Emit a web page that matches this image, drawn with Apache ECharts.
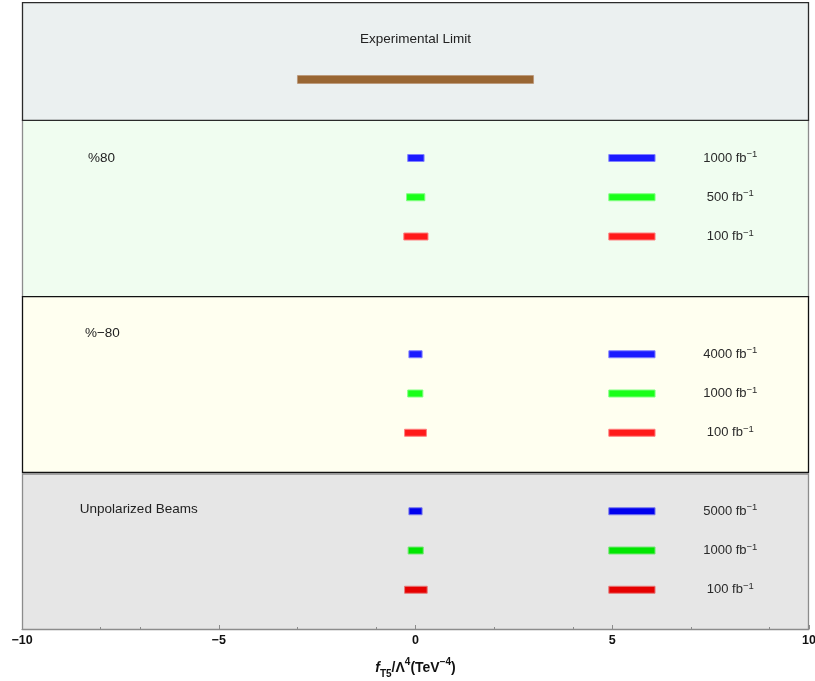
<!DOCTYPE html>
<html>
<head>
<meta charset="utf-8">
<script src="https://cdn.jsdelivr.net/npm/echarts@6/dist/echarts.min.js"></script>
<style>
  html, body { margin: 0; padding: 0; background: #ffffff; }
  #chart { width: 815px; height: 681px; }
</style>
</head>
<body>
<div id="chart"></div>
<script>
// Sensitivity intervals on f_T5/Λ^4 (TeV^-4)
const expLimit = [-3.0, 3.0];
const panelTitles = ['%80', '%\u221280', 'Unpolarized Beams'];
const lumiLabels = [
  ['1000', '500', '100'],
  ['4000', '1000', '100'],
  ['5000', '1000', '100']
];
const lowerBounds = [
  [-0.21, -0.24, -0.31],
  [-0.18, -0.21, -0.29],
  [-0.18, -0.20, -0.29]
];
const upperBounds = [
  [0.23, 0.25, 0.33],
  [0.18, 0.20, 0.29],
  [0.18, 0.21, 0.31]
];
// key swatches beside each luminosity label
const keyRange = [4.9, 6.1];
const xMinorTicks = [-8, -7, -3, -1, 2, 4, 7, 9];

// layout (row units on the hidden vertical axis)
const rowsByPanel = [[2, 3, 4], [7, 8, 9], [11, 12, 13]];
const expRow = 0;
const panelBands = [
  { y0: -1.97, y1: 1.03, fill: '#ebf0f0', stroke: '#2a2a2a', top: 2 },
  { y0: 1.03, y1: 5.52, fill: '#f0fdf0', stroke: '#8c8c8c', top: 1 },
  { y0: 5.52, y1: 10.0, fill: '#fffff0', stroke: '#111111', top: 2 },
  { y0: 10.04, y1: 14.0, fill: '#e6e6e6', stroke: '#8c8c8c', top: 1 }
];
const titleRows = [2, 6.46, 10.94];
const titleX = [-8.32, -8.4, -8.53];
const markColors = [
  ['#1a1aff', '#1aff1a', '#ff1a1a'],
  ['#1a1aff', '#1aff1a', '#ff1a1a'],
  ['#0000ee', '#00e600', '#e60000']
];
const markEdges = [
  ['#8080ff', '#80ff80', '#ff8080'],
  ['#8080ff', '#80ff80', '#ff8080'],
  ['#7a7aee', '#7ae67a', '#e67a7a']
];

// build series data
const bandData = panelBands.map((b, i) => [b.y0, b.y1, i]);
const barData = [];
lowerBounds.forEach((grp, g) => {
  grp.forEach((lo, k) => {
    barData.push([lo, upperBounds[g][k], rowsByPanel[g][k], g, k]);
    barData.push([keyRange[0], keyRange[1], rowsByPanel[g][k], g, k]);
  });
});
const lumiData = [];
lumiLabels.forEach((grp, g) => grp.forEach((l, k) => lumiData.push([8.0, rowsByPanel[g][k], g, k])));
const titleData = panelTitles.map((t, i) => [titleX[i], titleRows[i], i]);

const chart = echarts.init(document.getElementById('chart'));
const baseFont = 'Liberation Sans, Arial, sans-serif';

chart.setOption({
  animation: false,
  backgroundColor: '#ffffff',
  grid: { left: 22, right: 6, top: 1, bottom: 52, containLabel: false, outerBoundsMode: 'none' },
  xAxis: [
    {
      type: 'value', min: -10, max: 10, interval: 5, z: 10,
      splitLine: { show: false },
      axisLine: { show: true, onZero: false, lineStyle: { color: '#8c8c8c', width: 1 } },
      axisTick: { show: true, inside: true, length: 4, lineStyle: { color: '#8c8c8c' } },
      axisLabel: {
        color: '#111', fontSize: 12.5, fontWeight: 'bold', fontFamily: baseFont, margin: 5,
        formatter: v => String(v).replace('-', '\u2212')
      },
      name: '{f|f}{sub|T5}{n|/\u039b}{sup|4}{n|(TeV}{sup|\u22124}{n|)}',
      nameLocation: 'middle',
      nameGap: 28,
      nameTextStyle: {
        rich: {
          f: { fontSize: 14, fontWeight: 'bold', fontStyle: 'italic', fontFamily: baseFont, color: '#111', lineHeight: 22 },
          n: { fontSize: 14, fontWeight: 'bold', fontFamily: baseFont, color: '#111', lineHeight: 22 },
          sub: { fontSize: 10, fontWeight: 'bold', fontFamily: baseFont, color: '#111', lineHeight: 12, verticalAlign: 'bottom' },
          sup: { fontSize: 10, fontWeight: 'bold', fontFamily: baseFont, color: '#111', lineHeight: 12, verticalAlign: 'top' }
        }
      }
    },
    {
      type: 'value', min: -10, max: 10, position: 'bottom', z: 10,
      splitLine: { show: false },
      axisLine: { show: false, onZero: false },
      axisLabel: { show: false },
      axisTick: { show: true, inside: true, length: 2, customValues: xMinorTicks, lineStyle: { color: '#8c8c8c' } }
    }
  ],
  yAxis: { type: 'value', min: -2, max: 14, inverse: true, show: false },
  series: [
    {
      type: 'custom', name: 'panels', z: 1, silent: true,
      data: bandData,
      renderItem: (params, api) => {
        const b = panelBands[api.value(2)];
        const p0 = api.coord([-10, api.value(0)]);
        const p1 = api.coord([10, api.value(1)]);
        return {
          type: 'rect',
          z2: b.top,
          shape: { x: p0[0] + 0.5, y: p0[1] + 0.5, width: p1[0] - p0[0] - 1, height: p1[1] - p0[1] },
          style: { fill: b.fill, stroke: b.stroke, lineWidth: 1.3 }
        };
      }
    },
    {
      type: 'custom', name: 'experimental', z: 3, silent: true,
      data: [[expLimit[0], expLimit[1], expRow]],
      renderItem: (params, api) => {
        const p0 = api.coord([api.value(0), api.value(2)]);
        const p1 = api.coord([api.value(1), api.value(2)]);
        return {
          type: 'group',
          children: [
            { type: 'rect', shape: { x: p0[0], y: p0[1] - 4, width: p1[0] - p0[0], height: 8 },
              style: { fill: '#996633', stroke: '#b89070', lineWidth: 0.6 } },
            { type: 'text', x: api.coord([0, -1.03])[0], y: api.coord([0, -1.03])[1],
              style: { text: 'Experimental Limit', fill: '#222', font: '13.5px ' + baseFont, align: 'center', verticalAlign: 'middle' } }
          ]
        };
      }
    },
    {
      type: 'custom', name: 'intervals', z: 3, silent: true,
      data: barData,
      renderItem: (params, api) => {
        const g = api.value(3), k = api.value(4);
        const p0 = api.coord([api.value(0), api.value(2)]);
        const p1 = api.coord([api.value(1), api.value(2)]);
        return {
          type: 'rect',
          shape: { x: p0[0] + 0.5, y: p0[1] - 3.5, width: p1[0] - p0[0] - 1, height: 7 },
          style: { fill: markColors[g][k], stroke: markEdges[g][k], lineWidth: 1 }
        };
      }
    },
    {
      type: 'custom', name: 'lumi', z: 4, silent: true,
      data: lumiData,
      renderItem: (params, api) => {
        const g = api.value(2), k = api.value(3);
        const p = api.coord([api.value(0), api.value(1)]);
        return {
          type: 'text', x: p[0], y: p[1],
          style: {
            text: '{n|' + lumiLabels[g][k] + ' fb}{s|\u22121}',
            align: 'center', verticalAlign: 'middle',
            rich: {
              n: { fontSize: 13, fontFamily: baseFont, fill: '#2a2a2a', lineHeight: 17 },
              s: { fontSize: 9.5, fontFamily: baseFont, fill: '#2a2a2a', lineHeight: 11, verticalAlign: 'top' }
            }
          }
        };
      }
    },
    {
      type: 'custom', name: 'titles', z: 4, silent: true,
      data: titleData,
      renderItem: (params, api) => {
        const p = api.coord([api.value(0), api.value(1)]);
        return {
          type: 'text', x: p[0], y: p[1],
          style: { text: panelTitles[api.value(2)], fill: '#222', font: '13.5px ' + baseFont, align: 'left', verticalAlign: 'middle' }
        };
      }
    }
  ]
});
</script>
</body>
</html>
